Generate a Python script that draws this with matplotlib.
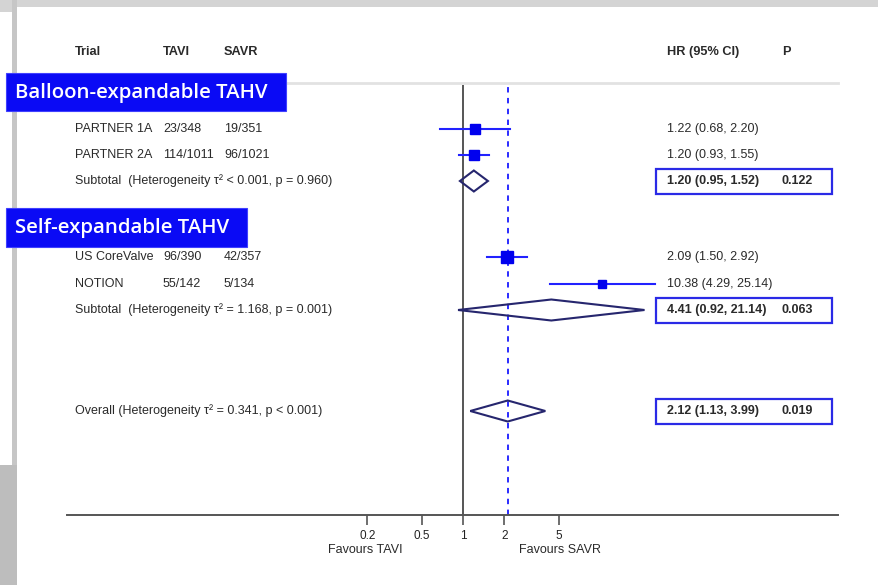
import matplotlib.pyplot as plt
from matplotlib.patches import Rectangle, Polygon

plt.rcParams['font.family'] = ['Liberation Sans', 'DejaVu Sans']

# study rows
trials = ['PARTNER 1A', 'PARTNER 2A', 'US CoreValve', 'NOTION']
tavi = ['23/348', '114/1011', '96/390', '55/142']
savr = ['19/351', '96/1021', '42/357', '5/134']
hr = [1.22, 1.20, 2.09, 10.38]
lo = [0.68, 0.93, 1.50, 4.29]
hi = [2.20, 1.55, 2.92, 25.14]
msize = [6.5, 6.5, 9, 6]
rows = [129, 155, 257, 284]

# pooled rows
pool_labels = ['Subtotal  (Heterogeneity \u03c4\u00b2 < 0.001, p = 0.960)',
               'Subtotal  (Heterogeneity \u03c4\u00b2 = 1.168, p = 0.001)',
               'Overall (Heterogeneity \u03c4\u00b2 = 0.341, p < 0.001)']
pool_hr = [1.20, 4.41, 2.12]
pool_lo = [0.95, 0.92, 1.13]
pool_hi = [1.52, 21.14, 3.99]
pool_p = ['0.122', '0.063', '0.019']
pool_rows = [181, 310, 411]

groups = ['Balloon-expandable TAHV', 'Self-expandable TAHV']
ticks = [0.2, 0.5, 1, 2, 5]

W, H = 879, 585
fig = plt.figure(figsize=(W / 100, H / 100), dpi=100)

# slide background / overlay in pixel coords
bg = fig.add_axes([0, 0, 1, 1])
bg.set_xlim(0, W)
bg.set_ylim(H, 0)
bg.axis('off')
bg.add_patch(Rectangle((0, 0), W, 7, color='#d4d4d4', lw=0))
bg.add_patch(Rectangle((0, 0), 17, 12, color='#d4d4d4', lw=0))
bg.add_patch(Rectangle((12, 0), 5, H, color='#c6c6c6', lw=0))
bg.add_patch(Rectangle((0, 465), 17, H - 465, color='#bdbdbd', lw=0))

# forest axes
x0, x1, ytop, ybot = 67, 838, 85, 515
ax = fig.add_axes([x0 / W, (H - ybot) / H, (x1 - x0) / W, (ybot - ytop) / H])
ax.set_xscale('log')
ax.set_xlim(10 ** ((x0 - 463) / 137), 10 ** ((x1 - 463) / 137))
ax.set_ylim(ybot, ytop)
for s in ['top', 'right', 'left']:
    ax.spines[s].set_visible(False)
ax.spines['bottom'].set_color('#555555')
ax.spines['bottom'].set_linewidth(1.4)
ax.set_yticks([])
ax.set_xticks(ticks)
ax.set_xticklabels([f'{t:g}' for t in ticks], fontsize=8.5, color='#222222')
ax.minorticks_off()
ax.tick_params(axis='x', length=7, width=1.2, color='#555555', pad=4)
ax.patch.set_alpha(0)

ax.axvline(1, color='#555555', lw=1.4, zorder=1)
ax.axvline(pool_hr[2], color='#1a1aff', lw=1.3, ls=(0, (3, 3)), zorder=1)

blue = '#2222ff'
for y, h, l, u, m in zip(rows, hr, lo, hi, msize):
    ax.plot([l, u], [y, y], color=blue, lw=1.5, zorder=3)
    ax.plot([h], [y], marker='s', ms=m, color='#0000ee', zorder=4)

for y, h, l, u in zip(pool_rows, pool_hr, pool_lo, pool_hi):
    ax.add_patch(Polygon([[l, y], [h, y - 10.5], [u, y], [h, y + 10.5]], closed=True,
                         fill=False, edgecolor='#26266e', lw=1.5, zorder=3))

# header
txt = '#2a2a2a'
fs = 9
for x, s in [(75, 'Trial'), (163, 'TAVI'), (224, 'SAVR'), (667, 'HR (95% CI)'), (782, 'P')]:
    bg.text(x, 52, s, fontsize=9.2, fontweight='bold', color=txt, va='center')
bg.plot([68, 838], [83, 83], color='#e2e2e2', lw=2)

# group labels
for (bx, by, bw, bh), g in zip([(6, 73, 280, 38), (6, 208, 241, 39)], groups):
    bg.add_patch(Rectangle((bx, by), bw, bh, facecolor='#0a0af5', edgecolor='#4040ff', lw=0.8, zorder=5))
    bg.text(bx + 9, by + bh / 2 + 1, g, fontsize=14.7, color='white', va='center',
            family='Open Sans', fontweight='semibold', zorder=6)

# study text
for y, t, a, b, h, l, u in zip(rows, trials, tavi, savr, hr, lo, hi):
    bg.text(75, y, t, fontsize=fs, color=txt, va='center')
    bg.text(163, y, a, fontsize=fs, color=txt, va='center')
    bg.text(224, y, b, fontsize=fs, color=txt, va='center')
    bg.text(667, y, f'{h:.2f} ({l:.2f}, {u:.2f})', fontsize=fs, color=txt, va='center')

# pooled text
for y, lab, h, l, u, p in zip(pool_rows, pool_labels, pool_hr, pool_lo, pool_hi, pool_p):
    bg.text(75, y, lab, fontsize=fs, color=txt, va='center')
    bg.text(667, y, f'{h:.2f} ({l:.2f}, {u:.2f})', fontsize=fs, fontweight='bold', color=txt, va='center')
    bg.text(782, y, p, fontsize=fs, fontweight='bold', color=txt, va='center')
    bg.add_patch(Rectangle((656, y - 12.5), 176, 25, fill=False, edgecolor='#2a2ae6', lw=1.6))

bg.text(365, 550, 'Favours TAVI', fontsize=fs, color=txt, ha='center', va='center')
bg.text(560, 550, 'Favours SAVR', fontsize=fs, color=txt, ha='center', va='center')

fig.savefig('out.png', dpi=100)
